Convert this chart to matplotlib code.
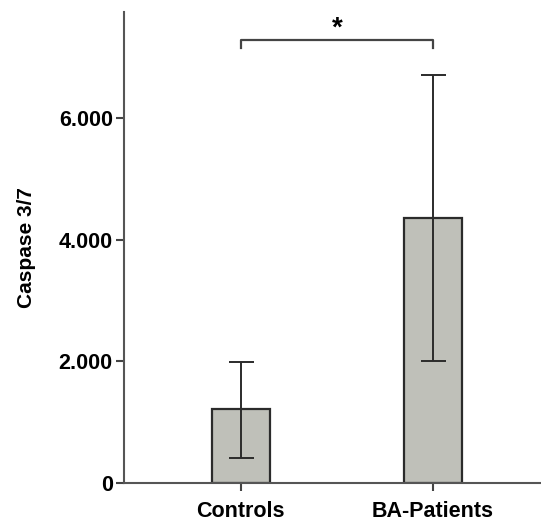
import matplotlib.pyplot as plt
from matplotlib.ticker import FuncFormatter

groups = ['Controls', 'BA-Patients']
means = [1215, 4360]
err_low = [410, 2000]
err_high = [1990, 6720]
yticks = [0, 2000, 4000, 6000]

plt.rcParams['font.family'] = ['Liberation Sans', 'DejaVu Sans']
plt.rcParams['font.weight'] = 'bold'

fig = plt.figure(figsize=(5.41, 5.21), dpi=100)
ax = fig.add_axes([0.229, 0.073, 0.771, 0.904])

x = list(range(len(groups)))
yerr = [[m - lo for m, lo in zip(means, err_low)],
        [hi - m for m, hi in zip(means, err_high)]]
ax.bar(x, means, width=0.3, color='#bfc0b9', edgecolor='#2b2b2b', linewidth=1.6, zorder=2)
ax.errorbar(x, means, yerr=yerr, fmt='none', ecolor='#2b2b2b', elinewidth=1.4,
            capsize=9, capthick=1.4, zorder=3)

# significance bracket
yb = 7290
ax.plot([0, 0, 1, 1], [yb - 140, yb, yb, yb - 140], color='#444444', lw=1.6, clip_on=False)
ax.text(0.5, 7480, '*', ha='center', va='center', fontsize=20, fontweight='bold')

ax.set_xlim(-0.609, 1.5625)
ax.set_ylim(0, 7750)
ax.set_xticks(x)
ax.set_xticklabels(groups, fontsize=15.5, fontweight='bold')
ax.set_yticks(yticks)
ax.yaxis.set_major_formatter(FuncFormatter(lambda v, p: '0' if v == 0 else f'{int(v):,}'.replace(',', '.')))
for lab in ax.get_yticklabels():
    lab.set_fontsize(15.5)
    lab.set_fontweight('bold')
ax.set_ylabel('Caspase 3/7', fontsize=15, fontweight='bold', labelpad=16)

for s in ['top', 'right']:
    ax.spines[s].set_visible(False)
for s in ['left', 'bottom']:
    ax.spines[s].set_color('#555555')
    ax.spines[s].set_linewidth(1.5)
ax.tick_params(axis='y', length=6, width=1.5, color='#444444', pad=2)
ax.tick_params(axis='x', length=6, width=1.5, color='#444444', pad=7)

fig.savefig('out.png', dpi=100)
